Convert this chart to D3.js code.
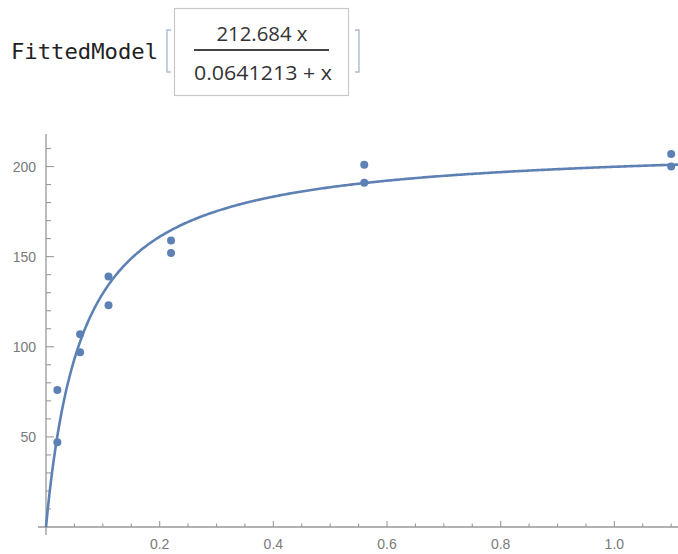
<!DOCTYPE html>
<html><head><meta charset="utf-8">
<script src="https://cdn.jsdelivr.net/npm/d3@7/dist/d3.min.js"></script>
<style>body{margin:0;background:#fff;} svg{display:block;}</style>
</head><body>
<svg id="c" width="678" height="554"></svg>
<script>
const concentration = [0.02, 0.02, 0.06, 0.06, 0.11, 0.11, 0.22, 0.22, 0.56, 0.56, 1.10, 1.10];
const rate = [76, 47, 97, 107, 123, 139, 159, 152, 191, 201, 207, 200];
const Vm = 212.684, K = 0.0641213;
const xTicks = [0.2, 0.4, 0.6, 0.8, 1.0];
const yTicks = [50, 100, 150, 200];
const numerator = "212.684 x";
const denominator = "0.0641213 + x";

const svg = d3.select("#c");
const x = d3.scaleLinear().domain([0, 1.112]).range([46, 678]);
const y = d3.scaleLinear().domain([0, 217.5]).range([527, 135]);
const col = "#5E81B5", axc = "#999", lab = "#7a7a7a";

// header
svg.append("text").attr("x", 11).attr("y", 59).text("FittedModel")
  .attr("font-family", "DejaVu Sans Mono").attr("font-size", 22).attr("fill", "#222")
  .attr("textLength", 147).attr("lengthAdjust", "spacingAndGlyphs");
svg.append("path").attr("d", "M171,30 H167 V72 H171").attr("fill", "none").attr("stroke", "#aebbd2").attr("stroke-width", 1.4);
svg.append("path").attr("d", "M355,30 H359 V72 H355").attr("fill", "none").attr("stroke", "#aebbd2").attr("stroke-width", 1.4);
svg.append("rect").attr("x", 174.5).attr("y", 8.5).attr("width", 174).attr("height", 87)
  .attr("fill", "#fff").attr("stroke", "#c8c8c8").attr("stroke-width", 1.2);
svg.append("text").attr("x", 262).attr("y", 41).attr("text-anchor", "middle").text(numerator)
  .attr("font-family", "Open Sans").attr("font-size", 20).attr("fill", "#333")
  .attr("textLength", 91).attr("lengthAdjust", "spacingAndGlyphs");
svg.append("line").attr("x1", 194).attr("x2", 329).attr("y1", 50).attr("y2", 50).attr("stroke", "#444").attr("stroke-width", 2);
svg.append("text").attr("x", 263).attr("y", 80).attr("text-anchor", "middle").text(denominator)
  .attr("font-family", "Open Sans").attr("font-size", 20).attr("fill", "#333")
  .attr("textLength", 138).attr("lengthAdjust", "spacingAndGlyphs");

// axes
const minorX = d3.range(1, 23).map(i => i * 0.05);
const gx = svg.append("g").attr("transform", "translate(0,527)");
gx.append("line").attr("x1", 38).attr("x2", 678).attr("y1", 0).attr("y2", 0).attr("stroke", axc).attr("stroke-width", 1.3);
minorX.forEach((v, i) => {
  const major = (i + 1) % 4 === 0;
  gx.append("line").attr("x1", x(v)).attr("x2", x(v)).attr("y1", 0).attr("y2", major ? -6 : -3.5).attr("stroke", axc).attr("stroke-width", 1.1);
});
gx.selectAll("text.t").data(xTicks).enter().append("text").attr("class", "t")
  .attr("x", d => x(d)).attr("y", 22).attr("text-anchor", "middle").text(d => d3.format(".1f")(d))
  .attr("font-family", "Liberation Sans").attr("font-size", 14).attr("fill", lab);

const gy = svg.append("g").attr("transform", "translate(46,0)");
gy.append("line").attr("x1", 0).attr("x2", 0).attr("y1", 134).attr("y2", 535).attr("stroke", axc).attr("stroke-width", 1.3);
d3.range(1, 22).map(i => i * 10).forEach(v => {
  const major = v % 50 === 0;
  gy.append("line").attr("x1", 0).attr("x2", major ? 8 : 5).attr("y1", y(v)).attr("y2", y(v)).attr("stroke", axc).attr("stroke-width", 1.1);
});
gy.selectAll("text.t").data(yTicks).enter().append("text").attr("class", "t")
  .attr("x", -10).attr("y", d => y(d) + 5).attr("text-anchor", "end").text(d => d)
  .attr("font-family", "Liberation Sans").attr("font-size", 14).attr("fill", lab);

// curve
const xs = d3.range(0, 401).map(i => i / 400 * 1.112);
const line = d3.line().x(d => x(d)).y(d => y(Vm * d / (K + d)));
svg.append("path").datum(xs).attr("d", line).attr("fill", "none").attr("stroke", col).attr("stroke-width", 2.6);

// points
svg.selectAll("circle").data(concentration.map((c, i) => [c, rate[i]])).enter().append("circle")
  .attr("cx", d => x(d[0])).attr("cy", d => y(d[1])).attr("r", 4).attr("fill", col);
</script>
</body></html>
